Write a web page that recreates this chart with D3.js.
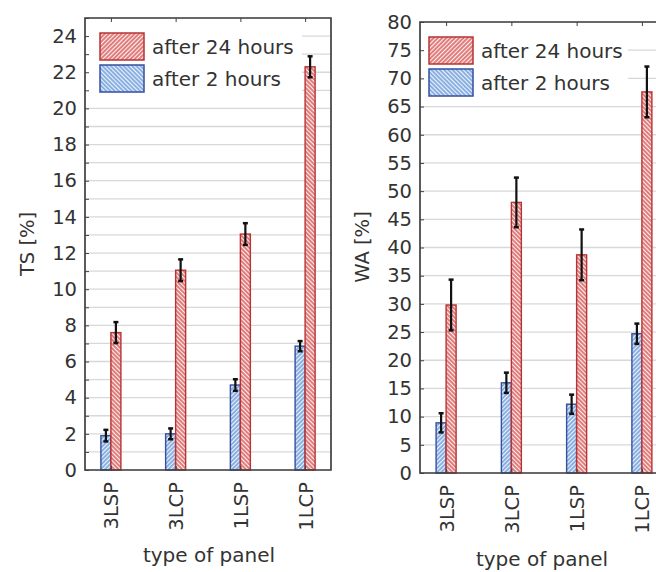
<!DOCTYPE html>
<html>
<head>
<meta charset="utf-8">
<script src="https://d3js.org/d3.v7.min.js"></script>
<style>
  body { margin: 0; background: #fff; }
  svg { display: block; font-family: "DejaVu Sans", sans-serif; }
</style>
</head>
<body>
<script>
// panel categories and series
var categories = ["3LSP", "3LCP", "1LSP", "1LCP"];
var seriesNames = ["after 2 hours", "after 24 hours"];

// TS [%] values (left panel)
var tsAfter2 = [1.9, 2.0, 4.7, 6.85];
var tsAfter2Err = [0.32, 0.3, 0.32, 0.28];
var tsAfter24 = [7.6, 11.05, 13.05, 22.3];
var tsAfter24Err = [0.58, 0.6, 0.6, 0.58];
var tsTicks = [0, 2, 4, 6, 8, 10, 12, 14, 16, 18, 20, 22, 24];

// WA [%] values (right panel)
var waAfter2 = [8.9, 16.0, 12.2, 24.7];
var waAfter2Err = [1.7, 1.8, 1.7, 1.8];
var waAfter24 = [29.8, 48.0, 38.7, 67.6];
var waAfter24Err = [4.5, 4.4, 4.5, 4.5];
var waTicks = [0, 5, 10, 15, 20, 25, 30, 35, 40, 45, 50, 55, 60, 65, 70, 75, 80];

var width = 656, height = 572;
var textColor = "#333";
var axisColor = "#404040";

var svg = d3.select("body").append("svg")
  .attr("width", width)
  .attr("height", height);

// hatch patterns
var defs = svg.append("defs");
function hatch(id, color, bg, angle) {
  var p = defs.append("pattern")
    .attr("id", id)
    .attr("patternUnits", "userSpaceOnUse")
    .attr("width", 3)
    .attr("height", 3)
    .attr("patternTransform", "rotate(" + angle + ")");
  p.append("rect").attr("width", 3).attr("height", 3).attr("fill", bg);
  p.append("line")
    .attr("x1", 1).attr("y1", 0).attr("x2", 1).attr("y2", 3)
    .attr("stroke", color).attr("stroke-width", 1.4);
}
hatch("redBar", "#d44c4c", "#fdf0f0", -45);
hatch("blueBar", "#5f92d6", "#eef4fc", 45);
hatch("redLeg", "#d44c4c", "#fdf0f0", 45);
hatch("blueLeg", "#5f92d6", "#eef4fc", -45);

var fills = { "after 2 hours": "url(#blueBar)", "after 24 hours": "url(#redBar)" };
var legFills = { "after 2 hours": "url(#blueLeg)", "after 24 hours": "url(#redLeg)" };
var strokes = { "after 2 hours": "#34509e", "after 24 hours": "#b83333" };

function drawPanel(cfg) {
  var x = d3.scalePoint()
    .domain(categories)
    .range([cfg.left, cfg.right])
    .padding(0.4);

  var inner = d3.scaleBand()
    .domain(seriesNames)
    .range([-10, 10]);

  var y = d3.scaleLinear()
    .domain([0, cfg.max])
    .range([cfg.bottom, cfg.top]);

  var g = svg.append("g");

  // gridlines
  g.selectAll(".grid")
    .data(cfg.grid)
    .enter().append("line")
      .attr("x1", cfg.left).attr("x2", cfg.right)
      .attr("y1", function(d){ return y(d); })
      .attr("y2", function(d){ return y(d); })
      .attr("stroke", "#d8d8d8")
      .attr("stroke-width", 1.3);

  // legend background hides gridlines
  g.append("rect")
    .attr("x", cfg.left + 1).attr("y", cfg.top + 1)
    .attr("width", cfg.legendW).attr("height", cfg.legendH)
    .attr("fill", "#fff");

  // bars
  var rows = [];
  categories.forEach(function(c, i) {
    rows.push({ cat: c, s: "after 2 hours", v: cfg.v2[i], e: cfg.e2[i] });
    rows.push({ cat: c, s: "after 24 hours", v: cfg.v24[i], e: cfg.e24[i] });
  });

  g.selectAll(".bar")
    .data(rows)
    .enter().append("rect")
      .attr("x", function(d){ return x(d.cat) + inner(d.s); })
      .attr("y", function(d){ return y(d.v); })
      .attr("width", inner.bandwidth())
      .attr("height", function(d){ return y(0) - y(d.v); })
      .attr("fill", function(d){ return fills[d.s]; })
      .attr("stroke", function(d){ return strokes[d.s]; })
      .attr("stroke-width", 1.4);

  // error bars
  var eb = g.selectAll(".err")
    .data(rows)
    .enter().append("g")
      .attr("transform", function(d){
        return "translate(" + (x(d.cat) + inner(d.s) + inner.bandwidth() / 2) + ",0)";
      });
  eb.append("line")
    .attr("y1", function(d){ return y(d.v - d.e); })
    .attr("y2", function(d){ return y(d.v + d.e); })
    .attr("stroke", "#111").attr("stroke-width", 2.2);
  eb.append("line")
    .attr("x1", -2.5).attr("x2", 2.5)
    .attr("y1", function(d){ return y(d.v + d.e); })
    .attr("y2", function(d){ return y(d.v + d.e); })
    .attr("stroke", "#111").attr("stroke-width", 2.5);
  eb.append("line")
    .attr("x1", -2.5).attr("x2", 2.5)
    .attr("y1", function(d){ return y(d.v - d.e); })
    .attr("y2", function(d){ return y(d.v - d.e); })
    .attr("stroke", "#111").attr("stroke-width", 2.5);

  // frame
  g.append("path")
    .attr("d", "M" + cfg.left + "," + cfg.top + "H" + cfg.right + "V" + cfg.bottom +
               "H" + cfg.left + "Z")
    .attr("fill", "none")
    .attr("stroke", axisColor)
    .attr("stroke-width", 1.7);

  // y axis
  var yAxis = g.append("g")
    .attr("transform", "translate(" + cfg.left + ",0)")
    .call(d3.axisLeft(y).tickValues(cfg.grid).tickSize(-4).tickPadding(8)
      .tickFormat(function(d){ return cfg.ticks.indexOf(d) >= 0 ? d : ""; }));
  yAxis.select(".domain").remove();
  yAxis.selectAll("line").attr("stroke", axisColor);
  yAxis.selectAll("text")
    .attr("fill", textColor)
    .style("font-size", "19.5px")
    .style("font-family", "DejaVu Sans, sans-serif");

  // top ticks
  var topAxis = g.append("g")
    .attr("transform", "translate(0," + cfg.top + ")")
    .call(d3.axisTop(x).tickSize(-4).tickFormat(""));
  topAxis.select(".domain").remove();
  topAxis.selectAll("line").attr("stroke", axisColor);

  // x axis labels
  var xAxis = g.append("g")
    .attr("transform", "translate(0," + cfg.bottom + ")")
    .call(d3.axisBottom(x).tickSize(-4).tickPadding(0));
  xAxis.select(".domain").remove();
  xAxis.selectAll("line").attr("stroke", axisColor);
  xAxis.selectAll("text")
    .attr("transform", "rotate(-90)")
    .attr("x", -12)
    .attr("y", 0)
    .attr("dy", "0.36em")
    .attr("text-anchor", "end")
    .attr("fill", textColor)
    .style("font-size", "19.5px")
    .style("font-family", "DejaVu Sans, sans-serif");

  // axis titles
  g.append("text")
    .attr("transform", "translate(" + cfg.yTitleX + "," + cfg.yTitleY + ") rotate(-90)")
    .attr("text-anchor", "middle")
    .attr("dy", "0.36em")
    .attr("fill", textColor)
    .style("font-size", "19.5px")
    .text(cfg.yTitle);

  g.append("text")
    .attr("x", cfg.xTitleX)
    .attr("y", cfg.xTitleY)
    .attr("text-anchor", "middle")
    .attr("fill", textColor)
    .style("font-size", "20px")
    .text("type of panel");

  // legend
  var legOrder = ["after 24 hours", "after 2 hours"];
  var leg = g.selectAll(".leg")
    .data(legOrder)
    .enter().append("g")
      .attr("transform", function(d, i){
        return "translate(" + cfg.legX + "," + (cfg.legY + i * 32) + ")";
      });
  leg.append("rect")
    .attr("width", 44).attr("height", 27)
    .attr("fill", function(d){ return legFills[d]; })
    .attr("stroke", function(d){ return strokes[d]; })
    .attr("stroke-width", 1.5);
  leg.append("text")
    .attr("x", 52).attr("y", 14)
    .attr("dy", "0.36em")
    .attr("fill", textColor)
    .style("font-size", "20px")
    .text(function(d){ return d; });
}

drawPanel({
  left: 85, right: 331, top: 18, bottom: 470, max: 25,
  grid: d3.range(0, 26, 1), ticks: tsTicks,
  v2: tsAfter2, e2: tsAfter2Err, v24: tsAfter24, e24: tsAfter24Err,
  yTitle: "TS [%]", yTitleX: 27, yTitleY: 244,
  xTitleX: 209, xTitleY: 562,
  legX: 100, legY: 33, legendW: 216, legendH: 76
});

drawPanel({
  left: 420, right: 668, top: 22, bottom: 473, max: 80,
  grid: waTicks, ticks: waTicks,
  v2: waAfter2, e2: waAfter2Err, v24: waAfter24, e24: waAfter24Err,
  yTitle: "WA [%]", yTitleX: 362, yTitleY: 247,
  xTitleX: 542, xTitleY: 566,
  legX: 429, legY: 37, legendW: 207, legendH: 78
});
</script>
</body>
</html>
